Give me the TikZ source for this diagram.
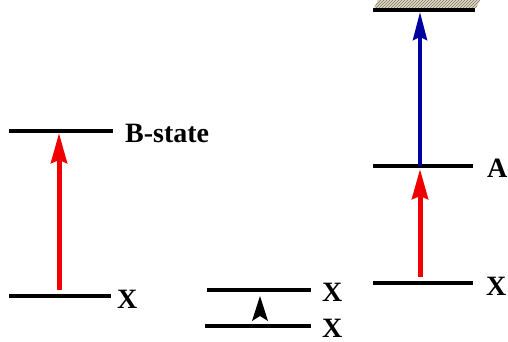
\documentclass[tikz,border=0pt]{standalone}
\usepackage{fontspec}
\setmainfont{Liberation Serif}
\usetikzlibrary{arrows.meta,patterns}

\definecolor{upred}{RGB}{240,0,0}
\definecolor{upblue}{RGB}{0,0,160}
\definecolor{surfacetan}{RGB}{225,216,192}

\begin{document}
\begin{tikzpicture}[x=1pt,y=-1pt,
    level/.style={line width=4pt},
    label/.style={anchor=west,inner sep=0pt,font=\bfseries\fontsize{28}{28}\selectfont},
    redup/.style={upred,line width=5pt,-{Stealth[length=30pt,width=16pt,inset=3pt]}},
    blueup/.style={upblue,line width=4pt,-{Stealth[length=28pt,width=14pt,inset=3pt]}}]
  \useasboundingbox (0,0) rectangle (508,342);
  % left: X -> B-state
  \coordinate (bl) at (9,131);
  \coordinate (br) at (113,131);
  \coordinate (xl) at (9,296);
  \coordinate (xr) at (111,296);
  \draw[level] (bl) -- (br);
  \draw[level] (xl) -- (xr);
  \coordinate (r1s) at (59,290);
  \coordinate (r1e) at (59,133);
  \draw[redup] (r1s) -- (r1e);
  \node[label] (bstate) at (125,133) {B-state};
  \node[label] (x1) at (117,299) {X};
  % middle: X -> X
  \draw[level] (207,290) coordinate (m1l) -- (311,290) coordinate (m1r);
  \draw[level] (205,326) coordinate (m2l) -- (311,326) coordinate (m2r);
  \fill (260,296) -- (268,321) -- (260,316) -- (252,321) -- cycle;
  \node[label] (x2) at (322,292) {X};
  \node[label] (x3) at (322,328) {X};
  % right: X -> A -> surface
  \fill[surfacetan] (374,8) -- (476,8) -- (480,0) -- (378,0) -- cycle;
  \fill[pattern=north east lines,pattern color=surfacetan!55!black] (374,8) -- (476,8) -- (480,0) -- (378,0) -- cycle;
  \draw[level] (373,10) coordinate (sl) -- (475,10) coordinate (sr);
  \draw[level] (373,166) coordinate (al) -- (473,166) coordinate (ar);
  \draw[level] (373,283) coordinate (x4l) -- (473,283) coordinate (x4r);
  \coordinate (r2s) at (420,277);
  \coordinate (r2e) at (420,169);
  \draw[redup] (r2s) -- (r2e);
  \coordinate (b2s) at (420,166);
  \coordinate (b2e) at (420,12);
  \draw[blueup] (b2s) -- (b2e);
  \node[label] (astate) at (487,168) {A};
  \node[label] (x4) at (486,286) {X};
\end{tikzpicture}
\end{document}
